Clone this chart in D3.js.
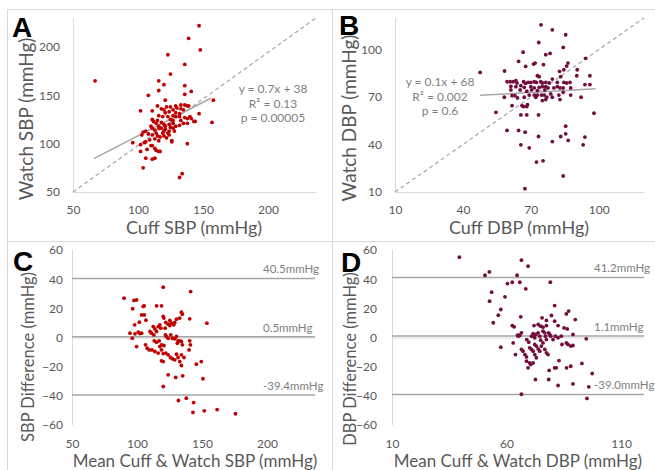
<!DOCTYPE html>
<html>
<head>
<meta charset="utf-8">
<script src="https://cdn.jsdelivr.net/npm/d3@7"></script>
<style>
  body { margin: 0; background: #fff; }
  svg { display: block; font-family: Lato, "Open Sans", sans-serif; }
  .tick text { fill: #595959; font-size: 12px; font-family: Lato, "Open Sans", sans-serif; }
  .title { fill: #595959; text-anchor: middle; }
  .note { fill: #7f7f7f; font-size: 11.5px; }
  .letter { font-family: "Liberation Sans", Arial, sans-serif; font-weight: bold; font-size: 28px; fill: #000; }
</style>
</head>
<body>
<svg id="chart" width="655" height="470"></svg>
<script>
// ---- data ----
// A: cuff SBP vs watch SBP
const sbpPairs = [
  [147,222],[139,209],[148,197],[123,192],[136,182],[125,172],[67,165],[116,165],[120,161],[136,160],
  [116,155],[141,154],[136,151],[108,150],[121,145],[158,145],[115,139],[129,139],[133,140],[136,140],
  [138,139],[139,139],[122,138],[125,138],[102,134],[111,134],[118,136],[120,135],[127,135],[130,137],
  [133,136],[135,135],[121,132],[124,133],[129,132],[132,131],[147,131],[116,129],[119,128],[123,128],
  [127,129],[129,128],[132,128],[136,127],[138,126],[141,126],[143,123],[144,123],[140,128],[115,124],
  [111,125],[125,125],[127,124],[133,124],[112,123],[114,121],[118,122],[120,120],[124,120],[127,121],
  [129,118],[132,119],[135,121],[138,121],[157,122],[110,118],[116,118],[121,118],[125,117],[111,116],
  [113,114],[116,116],[118,116],[120,113],[121,115],[124,113],[127,116],[128,113],[106,113],[104,112],
  [114,111],[119,111],[123,111],[103,109],[108,110],[111,109],[115,108],[117,107],[120,108],[124,109],
  [122,106],[126,103],[116,103],[109,104],[113,105],[96,101],[102,99],[105,101],[106,102],[126,102],
  [138,100],[111,98],[113,95],[107,94],[102,92],[114,93],[116,92],[117,92],[110,98],[106,85],
  [111,84],[113,85],[104,75],[134,69],[132,65]
];
// B: cuff DBP vs watch DBP
const dbpPairs = [
  [74.5,115.7],[79.5,112.5],[85.4,109.4],[73.5,104.5],[84.3,101.4],[66.6,98.4],[76.6,96.8],[78.5,97.6],
  [64.6,92.6],[71.2,90.9],[71.9,91.5],[75.6,90.5],[67.7,89.4],[86.4,91.5],[85.8,89.6],[84.6,87.3],
  [82.7,86.3],[90.5,87.3],[94.2,94.5],[47.6,85.6],[58.4,86.5],[90.3,83.5],[96.1,83.5],[83.2,82.9],
  [72.9,83.5],[73.7,82.9],[79.5,81.4],[59.5,79.7],[60.9,79.7],[62.2,79.7],[63.4,80.4],[63.9,78.9],
  [66.8,79.7],[67.7,78.7],[68.8,79.3],[70.0,79.3],[71.5,79.7],[72.5,79.3],[74.4,79.7],[75.1,78.9],
  [76.6,79.3],[78.1,78.9],[81.7,79.3],[84.6,79.3],[85.8,78.9],[87.3,79.3],[93.9,77.9],[96.1,77.9],
  [61.2,76.8],[63.4,76.6],[65.6,77.2],[67.1,76.2],[70.0,76.6],[71.5,75.8],[73.7,76.2],[75.1,76.6],
  [76.6,76.6],[77.6,75.8],[80.2,75.8],[81.7,76.6],[82.9,75.8],[84.3,75.8],[87.6,75.8],[61.2,74.5],
  [65.3,74.5],[68.2,73.7],[70.3,74.5],[72.9,74.1],[76.2,74.5],[61.7,70.9],[63.0,70.9],[69.3,71.3],
  [71.5,71.3],[72.9,71.3],[74.7,71.3],[75.9,71.3],[78.8,72.0],[82.4,71.3],[84.3,73.0],[87.6,71.3],
  [92.2,69.9],[58.3,69.9],[64.1,69.5],[67.1,69.9],[72.2,69.9],[77.0,69.9],[79.5,69.9],[82.9,68.4],
  [75.1,67.8],[76.6,68.4],[68.5,65.3],[66.1,64.6],[66.8,64.0],[68.2,64.0],[61.7,64.6],[54.6,60.4],
  [65.6,58.7],[68.2,58.7],[73.4,58.7],[97.9,59.8],[59.5,48.9],[64.6,48.9],[67.5,47.8],[85.4,51.6],
  [85.4,46.8],[83.2,45.1],[73.4,45.1],[93.9,44.7],[86.5,42.6],[79.5,41.9],[65.6,39.8],[69.3,37.9],
  [93.1,39.8],[72.5,28.9],[75.4,29.7],[84.3,20.1],[67.4,12.1]
];
// C: mean vs difference, SBP
const sbpDiff = [
  [90.1,27.0],[97.7,25.4],[99.7,25.8],[96.7,19.7],[104.8,21.3],[105.6,21.7],[98.2,8.7],[101.8,10.5],
  [103.6,15.5],[105.6,15.5],[106.9,11.9],[115.1,21.7],[118.9,21.7],[120.2,34.5],[141.3,31.5],[134.2,17.4],
  [134.9,16.0],[132.9,13.3],[130.4,12.6],[129.1,10.3],[140.6,12.8],[153.8,9.8],[120.2,14.4],[120.7,13.3],
  [122.2,10.3],[124.0,9.1],[125.3,8.2],[117.6,8.7],[116.3,7.5],[118.4,6.4],[112.5,7.5],[113.8,5.9],
  [115.1,4.1],[121.7,6.4],[125.3,11.7],[126.5,9.8],[128.3,8.7],[110.0,4.1],[111.2,3.0],[113.0,1.8],
  [101.0,3.7],[102.3,2.7],[103.6,3.0],[98.5,2.5],[94.6,3.0],[96.4,-0.5],[99.7,-6.2],[106.6,-5.0],
  [107.9,-7.3],[109.4,-8.5],[111.5,-8.5],[113.3,-2.3],[115.1,-3.2],[117.1,-2.3],[117.6,-6.2],[118.9,-5.0],
  [120.7,-5.5],[121.9,1.8],[122.7,0.7],[124.0,-0.5],[126.0,1.8],[127.3,-0.5],[129.1,-0.9],[130.4,0.7],
  [131.6,-2.3],[131.1,-3.9],[132.9,-2.3],[134.2,-2.7],[134.9,-5.0],[140.6,-2.3],[141.1,-5.0],[140.1,-8.5],
  [113.8,-9.6],[116.3,-10.7],[118.9,-8.5],[120.2,-11.0],[122.2,-10.7],[124.0,-11.9],[125.8,-13.7],[127.3,-14.6],
  [129.1,-15.3],[130.4,-11.4],[131.6,-13.7],[134.2,-11.9],[136.2,-13.7],[118.9,-16.0],[120.2,-16.5],[132.9,-16.5],
  [134.2,-19.2],[145.7,-18.3],[149.5,-16.5],[124.0,-25.6],[129.8,-27.4],[135.2,-26.3],[150.8,-28.3],[120.2,-33.6],
  [131.9,-43.2],[138.0,-41.6],[143.6,-44.6],[143.1,-51.4],[151.8,-50.3],[161.7,-49.4],[175.8,-52.3]
];
// D: mean vs difference, DBP
const dbpDiff = [
  [39.4,55.1],[66.5,53.0],[69.4,48.9],[50.6,42.7],[52.5,45.0],[64.6,42.7],[62.5,37.9],[65.8,37.9],
  [60.4,37.0],[79.1,37.9],[68.4,33.4],[53.5,31.1],[59.3,27.9],[52.6,24.9],[57.5,19.2],[56.4,15.3],
  [54.2,10.1],[66.2,14.2],[81.0,21.9],[87.1,18.1],[86.1,16.2],[90.0,12.3],[79.6,15.1],[75.5,13.5],
  [77.4,11.7],[81.0,11.2],[62.5,8.2],[63.3,7.3],[72.0,8.2],[73.8,8.9],[74.9,7.8],[75.9,7.1],
  [77.4,8.2],[82.5,8.2],[85.1,6.6],[86.5,5.9],[89.0,2.1],[94.8,-0.9],[64.8,1.6],[65.1,0.9],
  [65.4,1.4],[65.8,1.4],[66.5,3.2],[68.8,-1.4],[69.7,-3.2],[70.9,0.9],[71.6,2.7],[72.0,0.9],
  [72.3,-0.2],[72.8,2.1],[73.8,3.2],[74.5,0.9],[74.9,-1.8],[75.9,4.3],[76.7,3.2],[77.0,0.9],
  [77.4,-1.4],[78.4,3.2],[78.8,2.1],[79.3,0.9],[80.3,-1.4],[81.3,0.9],[82.5,-0.2],[83.9,0.9],
  [57.5,-6.6],[62.9,-3.7],[63.9,-11.7],[66.5,-8.2],[67.2,-9.4],[68.0,-11.7],[68.7,-13.3],[70.1,-7.1],
  [70.9,-8.2],[71.6,-9.4],[72.3,-4.8],[73.0,-5.9],[73.8,-7.8],[74.5,-9.4],[75.2,-5.9],[75.9,-3.7],
  [76.7,-8.2],[77.4,-10.5],[78.1,-11.7],[68.7,-16.2],[70.1,-17.4],[70.6,-18.5],[71.6,-17.4],[69.4,-20.8],
  [72.3,-11.7],[73.0,-13.9],[84.2,-4.8],[86.1,-3.7],[86.8,-4.8],[88.0,-5.9],[89.0,-5.5],[82.9,-15.8],
  [81.0,-20.8],[81.7,-20.8],[86.2,-20.8],[88.0,-19.7],[92.9,-17.8],[97.4,-24.7],[78.6,-22.6],[72.6,-28.8],
  [78.4,-28.8],[82.5,-32.9],[89.0,-31.8],[95.9,-33.8],[66.5,-38.9],[95.1,-41.8]
];

// trendlines (endpoints as drawn) and their labels
const sbpTrend = [[66, 84.5], [156, 147]];
const dbpTrend = [[47.6, 71.1], [98.6, 75.3]];
const sbpTrendText = ['y = 0.7x + 38', 'R\u00B2 = 0.13', 'p = 0.00005'];
const dbpTrendText = ['y = 0.1x + 68', 'R\u00B2 = 0.002', 'p = 0.6'];

// Bland-Altman lines: upper limit, mean bias, lower limit
const sbpLimits = [40.5, 0.5, -39.4];
const dbpLimits = [41.2, 1.1, -39.0];

// tick values
const sbpTicks = [50, 100, 150, 200];
const dbpTicks = [10, 40, 70, 100];
const diffTicks = [-60, -40, -20, 0, 20, 40, 60];
const dbpMeanTicks = [10, 60, 110];

const RED = '#c00000';
const MAROON = '#720e3d';
const LINE = '#d9d9d9';
const GREY = '#a6a6a6';

const svg = d3.select('#chart');

// panel frames
svg.append('path')
  .attr('d', 'M7.5,470V9.5H655M332.5,9.5V470M7.5,241.5H655')
  .attr('fill', 'none')
  .attr('stroke', LINE);

function drawPanel(p) {
  const x = d3.scaleLinear().domain(p.xDomain).range([p.left, p.right]);
  const y = d3.scaleLinear().domain(p.yDomain).range([p.bottom, p.top]);
  const g = svg.append('g');

  // axis lines
  g.append('line')
    .attr('x1', x(p.xDomain[0]) + 0.5).attr('x2', x(p.xDomain[0]) + 0.5)
    .attr('y1', p.top).attr('y2', p.bottom)
    .attr('stroke', LINE);
  const xLineAt = p.xLineAt !== undefined ? p.xLineAt : p.yDomain[0];
  g.append('line')
    .attr('x1', p.left).attr('x2', p.right)
    .attr('y1', y(xLineAt) + 0.5).attr('y2', y(xLineAt) + 0.5)
    .attr('stroke', LINE);

  const xa = g.append('g')
    .attr('transform', 'translate(0,' + p.bottom + ')')
    .call(d3.axisBottom(x).tickValues(p.xTicks).tickSize(0).tickPadding(p.xPad));
  xa.select('.domain').remove();

  const ya = g.append('g')
    .attr('transform', 'translate(' + p.left + ',0)')
    .call(d3.axisLeft(y).tickValues(p.yTicks).tickSize(0).tickPadding(p.yPad));
  ya.select('.domain').remove();

  // identity line
  if (p.identity) {
    g.append('line')
      .attr('x1', x(p.xDomain[0])).attr('y1', y(p.yDomain[0]))
      .attr('x2', x(p.xDomain[1])).attr('y2', y(p.yDomain[1]))
      .attr('stroke', GREY)
      .attr('stroke-width', 1.2)
      .attr('stroke-dasharray', '4,3');
  }

  // limits lines (Bland-Altman)
  if (p.limits) {
    g.selectAll('.limit')
      .data(p.limits)
      .enter()
      .append('line')
      .attr('class', 'limit')
      .attr('x1', p.left).attr('x2', p.right)
      .attr('y1', d => y(d)).attr('y2', d => y(d))
      .attr('stroke', GREY)
      .attr('stroke-width', 1.5);
    g.selectAll('.limit-label')
      .data(p.limits)
      .enter()
      .append('text')
      .attr('class', 'note limit-label')
      .attr('x', p.limitLabelX)
      .attr('y', d => y(d) - 5)
      .text(d => d.toFixed(1) + 'mmHg');
  }

  // trendline
  if (p.trend) {
    g.append('path')
      .datum(p.trend)
      .attr('fill', 'none')
      .attr('stroke', GREY)
      .attr('stroke-width', 1.5)
      .attr('d', d3.line().x(d => x(d[0])).y(d => y(d[1])));
    g.selectAll('.eq')
      .data(p.trendText)
      .enter()
      .append('text')
      .attr('class', 'note eq')
      .attr('text-anchor', 'middle')
      .style('font-size', '12px')
      .attr('x', p.eqX)
      .attr('y', (d, i) => p.eqY + i * 14.5)
      .text(d => d);
  }

  // points
  g.selectAll('.dot')
    .data(p.points)
    .enter()
    .append('circle')
    .attr('class', 'dot')
    .attr('cx', d => x(d[0]))
    .attr('cy', d => y(d[1]))
    .attr('r', 1.9)
    .attr('fill', p.color);

  // axis titles
  g.append('text')
    .attr('class', 'title')
    .attr('x', p.xTitle[0]).attr('y', p.xTitle[1])
    .attr('dy', '0.35em')
    .style('font-size', p.xTitleSize + 'px')
    .text(p.xLabel);
  g.append('text')
    .attr('class', 'title')
    .attr('transform', 'translate(' + p.yTitle[0] + ',' + p.yTitle[1] + ') rotate(-90)')
    .attr('dy', '0.35em')
    .style('font-size', p.yTitleSize + 'px')
    .text(p.yLabel);

  g.append('text')
    .attr('class', 'letter')
    .attr('x', p.letterPos[0]).attr('y', p.letterPos[1])
    .text(p.letter);
}

drawPanel({
  letter: 'A', letterPos: [12, 37],
  left: 73, right: 316, top: 18, bottom: 192,
  xDomain: [50, 237], yDomain: [50, 230],
  xTicks: sbpTicks, yTicks: sbpTicks, xPad: 13, yPad: 13,
  points: sbpPairs, color: RED, identity: true,
  trend: sbpTrend, trendText: sbpTrendText, eqX: 273, eqY: 93,
  xLabel: 'Cuff SBP (mmHg)', xTitle: [194, 228], xTitleSize: 18,
  yLabel: 'Watch SBP (mmHg)', yTitle: [26, 119], yTitleSize: 19
});

drawPanel({
  letter: 'B', letterPos: [339, 35],
  left: 395, right: 644, top: 18, bottom: 192,
  xDomain: [10, 120], yDomain: [10, 120],
  xTicks: dbpTicks, yTicks: dbpTicks, xPad: 13, yPad: 13,
  points: dbpPairs, color: MAROON, identity: true,
  trend: dbpTrend, trendText: dbpTrendText, eqX: 440, eqY: 86,
  xLabel: 'Cuff DBP (mmHg)', xTitle: [519, 228], xTitleSize: 18,
  yLabel: 'Watch DBP (mmHg)', yTitle: [349, 118], yTitleSize: 19
});

drawPanel({
  letter: 'C', letterPos: [13, 271],
  left: 72, right: 315, top: 250, bottom: 425,
  xDomain: [50, 237], yDomain: [-60, 60], xLineAt: 0,
  xTicks: sbpTicks, yTicks: diffTicks, xPad: 14, yPad: 9,
  points: sbpDiff, color: RED,
  limits: sbpLimits, limitLabelX: 263,
  xLabel: 'Mean Cuff & Watch SBP (mmHg)', xTitle: [195, 461], xTitleSize: 17,
  yLabel: 'SBP Difference (mmHg)', yTitle: [28, 357], yTitleSize: 16.5
});

drawPanel({
  letter: 'D', letterPos: [341, 272],
  left: 392, right: 644, top: 250, bottom: 425,
  xDomain: [10, 120], yDomain: [-60, 60], xLineAt: 0,
  xTicks: dbpMeanTicks, yTicks: diffTicks, xPad: 14, yPad: 15,
  points: dbpDiff, color: MAROON,
  limits: dbpLimits, limitLabelX: 594,
  xLabel: 'Mean Cuff & Watch DBP (mmHg)', xTitle: [518, 461], xTitleSize: 17,
  yLabel: 'DBP Difference (mmHg)', yTitle: [350, 359], yTitleSize: 16.5
});
</script>
</body>
</html>
